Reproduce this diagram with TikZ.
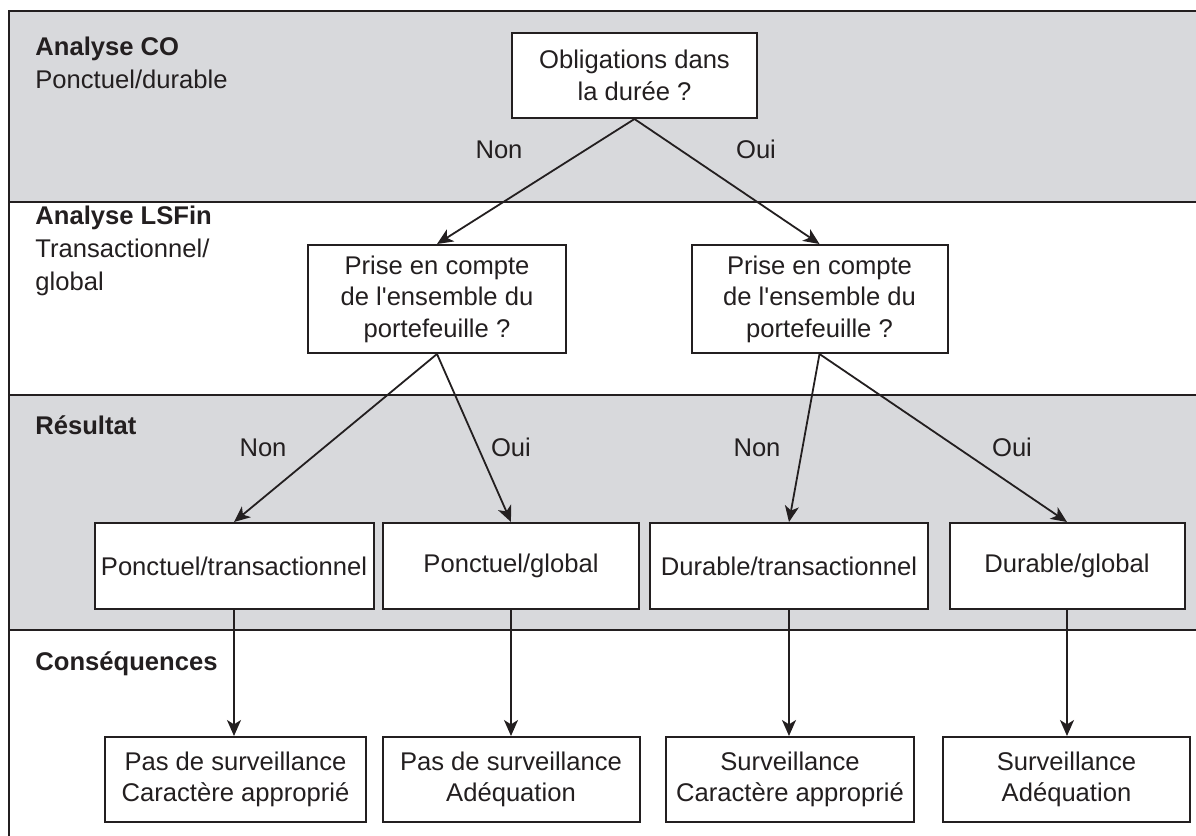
\documentclass[tikz,border=0pt]{standalone}
\usepackage{fontspec}
\setmainfont{Liberation Sans}
\usetikzlibrary{arrows.meta, positioning}
\definecolor{bandgray}{RGB}{216,217,220}
\definecolor{ink}{RGB}{35,31,32}

\begin{document}
\begin{tikzpicture}[x=0.5pt, y=-0.5pt,
        font=\fontsize{12.8}{15.8}\selectfont, ink,
        box/.style={draw=ink, fill=white, line width=1pt, align=center, inner sep=0pt, minimum height=43pt},
        bandlabel/.style={align=left, anchor=base west, inner sep=0pt, font=\fontsize{12.8}{16.5}\selectfont},
        lbl/.style={anchor=base, inner sep=0pt},
        arr/.style={-{Stealth[length=8pt, width=7pt, inset=2.2pt]}, line width=0.9pt, draw=ink}]
    \useasboundingbox (0,0) rectangle (1196,836);

    % bands
    \fill[bandgray] (9,11) rectangle (1196,202);
    \fill[bandgray] (9,395) rectangle (1196,630);
    \draw[line width=1pt] (1196,11) -- (9,11) -- (9,836);
    \foreach \y in {202,395,630}
        \draw[line width=1pt] (9,\y) -- (1196,\y);

    % base of a multi-line label is its last line
    \node[bandlabel] (coband) at (35,88) {\textbf{Analyse CO}\\Ponctuel/durable};
    \node[bandlabel] (lsfinband) at (35,290) {\textbf{Analyse LSFin}\\Transactionnel/\\global};
    \node[bandlabel] (resband) at (35,434) {\textbf{Résultat}};
    \node[bandlabel] (consband) at (35,670) {\textbf{Conséquences}};

    % questions
    \node[box, minimum width=122.5pt, minimum height=42.5pt] (oblig) at (634.5,75.5) {Obligations dans\\la durée ?};
    \node[box, minimum width=129pt, minimum height=54pt] (lsfinA) at (437,299) {Prise en compte\\de l\textquotesingle ensemble du\\portefeuille ?};
    \node[box, minimum width=128pt, minimum height=54pt] (lsfinB) at (819.5,299) {Prise en compte\\de l\textquotesingle ensemble du\\portefeuille ?};

    % results
    \node[box, minimum width=139.5pt] (resA) at (234,566) {Ponctuel/transactionnel};
    \node[box, minimum width=128pt] (resB) at (511,566) {Ponctuel/global};
    \node[box, minimum width=139pt] (resC) at (789,566) {Durable/transactionnel};
    \node[box, minimum width=117.5pt] (resD) at (1067,566) {Durable/global};

    % consequences
    \node[box, minimum width=130.5pt, minimum height=42.5pt] (consA) at (235.5,779.5) {Pas de surveillance\\Caractère approprié};
    \node[box, minimum width=128.5pt, minimum height=42.5pt] (consB) at (511,779.5) {Pas de surveillance\\Adéquation};
    \node[box, minimum width=124pt, minimum height=42.5pt] (consC) at (790,779.5) {Surveillance\\Caractère approprié};
    \node[box, minimum width=123.5pt, minimum height=42.5pt] (consD) at (1066.5,779.5) {Surveillance\\Adéquation};

    % connectors
    \draw[arr] (oblig.south) -- (lsfinA.north);
    \draw[arr] (oblig.south) -- (lsfinB.north);
    \draw[arr] (lsfinA.south) -- (resA.north);
    \draw[arr] (lsfinA.south) -- (resB.north);
    \draw[arr] (lsfinB.south) -- (resC.north);
    \draw[arr] (lsfinB.south) -- (resD.north);
    \foreach \r/\c in {resA/consA, resB/consB, resC/consC, resD/consD}
        \draw[arr] (\r.south) -- (\r.south |- \c.north);

    \node[lbl] (nonA) at (499,158) {Non};
    \node[lbl] (ouiA) at (756,158) {Oui};
    \node[lbl] (nonB) at (263,456) {Non};
    \node[lbl] (ouiB) at (511,456) {Oui};
    \node[lbl] (nonC) at (757,456) {Non};
    \node[lbl] (ouiC) at (1012,456) {Oui};
\end{tikzpicture}
\end{document}
